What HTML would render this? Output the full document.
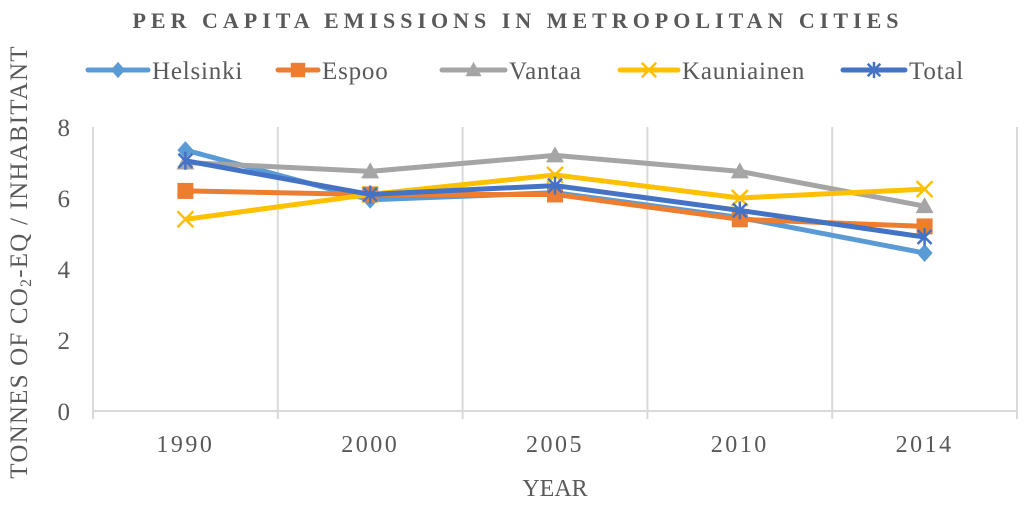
<!DOCTYPE html>
<html><head><meta charset="utf-8"><style>
body{margin:0;background:#fff;width:1024px;height:503px;overflow:hidden}
svg text{font-family:"Liberation Serif",serif;fill:#595959}
</style></head><body>
<svg id="c" width="1024" height="503">
<text x="518" y="28" text-anchor="middle" font-size="22" font-weight="bold" letter-spacing="5">PER CAPITA EMISSIONS IN METROPOLITAN CITIES</text>
<text transform="translate(27,262) rotate(-90)" text-anchor="middle" font-size="25" letter-spacing="1.2">TONNES OF CO<tspan font-size="16" dy="4">2</tspan><tspan dy="-4">-EQ / INHABITANT</tspan></text>
<text x="555" y="496" text-anchor="middle" font-size="24">YEAR</text>
<g id="grid"></g><g id="axes"></g><g id="series"></g><g id="legend"></g>
</svg>
<script>
const categories=["1990","2000","2005","2010","2014"];
const seriesNames=["Helsinki","Espoo","Vantaa","Kauniainen","Total"];
const helsinki=[7.35,5.95,6.15,5.45,4.45];
const espoo=[6.2,6.1,6.1,5.4,5.2];
const vantaa=[7.0,6.75,7.2,6.75,5.77];
const kauniainen=[5.4,6.1,6.65,6.0,6.25];
const total=[7.05,6.1,6.35,5.65,4.9];
const yTicks=[0,2,4,6,8];
const colors=["#5B9BD5","#ED7D31","#A5A5A5","#FFC000","#4472C4"];
const markers=["diamond","square","triangle","x","star"];
const data=[helsinki,espoo,vantaa,kauniainen,total];
const NS="http://www.w3.org/2000/svg";
const x0=93,x1=1017,y0=411,y8=127;
const bw=(x1-x0)/categories.length;
const xs=i=>x0+bw*(i+0.5);
const ys=v=>y0-(v/8)*(y0-y8);
function mk(t,a,p){const e=document.createElementNS(NS,t);for(const k in a)e.setAttribute(k,a[k]);p.appendChild(e);return e;}
const grid=document.getElementById('grid'),axes=document.getElementById('axes'),ser=document.getElementById('series'),leg=document.getElementById('legend');
for(let i=0;i<=categories.length;i++){
 const l=mk('line',{x1:x0+bw*i,x2:x0+bw*i,y1:y8,y2:y0+8,stroke:'#d9d9d9','stroke-width':2},grid);
 
 
}
const ax=mk('line',{x1:x0,x2:x1,y1:y0,y2:y0,stroke:'#d9d9d9','stroke-width':2},axes);


yTicks.forEach(t=>{
 const e=mk('text',{x:70,y:ys(t)+9,'text-anchor':'end','font-size':25},axes);e.textContent=t;
 
 
});
categories.forEach((c,i)=>{
 const e=mk('text',{x:xs(i),y:452,'text-anchor':'middle','font-size':24,'letter-spacing':2.5},axes);e.textContent=c;
 
 
});
function marker(type,x,y,col,p,s){
 s=s||1;let e;
 if(type==='diamond')e=mk('polygon',{points:`${x},${y-9*s} ${x+8*s},${y} ${x},${y+9*s} ${x-8*s},${y}`,fill:col},p);
 else if(type==='square')e=mk('rect',{x:x-8*s,y:y-8*s,width:16*s,height:16*s,fill:col},p);
 else if(type==='triangle')e=mk('polygon',{points:`${x},${y-9*s} ${x+9*s},${y+7*s} ${x-9*s},${y+7*s}`,fill:col},p);
 else if(type==='x')e=mk('path',{d:`M${x-8*s},${y-8*s}L${x+8*s},${y+8*s}M${x+8*s},${y-8*s}L${x-8*s},${y+8*s}`,stroke:col,'stroke-width':2.5,fill:'none'},p);
 else e=mk('path',{d:`M${x-7*s},${y-7*s}L${x+7*s},${y+7*s}M${x+7*s},${y-7*s}L${x-7*s},${y+7*s}M${x},${y-9*s}L${x},${y+9*s}`,stroke:col,'stroke-width':2.5,fill:'none'},p);
 return e;
}
data.forEach((arr,si)=>{
 const g=mk('g',{},ser);
 
 
 const pl=mk('polyline',{points:arr.map((v,i)=>xs(i)+','+ys(v)).join(' '),fill:'none',stroke:colors[si],'stroke-width':5,'stroke-linejoin':'round'},g);
 
 
 arr.forEach((v,i)=>{
  const m=marker(markers[si],xs(i),ys(v),colors[si],g);
  
  
 });
});
const legX=[88,278,442,620,843],legW=[60,40,63,58,62];
seriesNames.forEach((n,si)=>{
 const g=mk('g',{},leg);
 
 
 mk('line',{x1:legX[si],x2:legX[si]+legW[si],y1:70,y2:70,stroke:colors[si],'stroke-width':5,'stroke-linecap':'round'},g);
 marker(markers[si],legX[si]+legW[si]/2,70,colors[si],g,0.9);
 const t=mk('text',{x:legX[si]+legW[si]+4,y:79,'font-size':25,'letter-spacing':0.8},g);t.textContent=n;
});
</script>
</body></html>
